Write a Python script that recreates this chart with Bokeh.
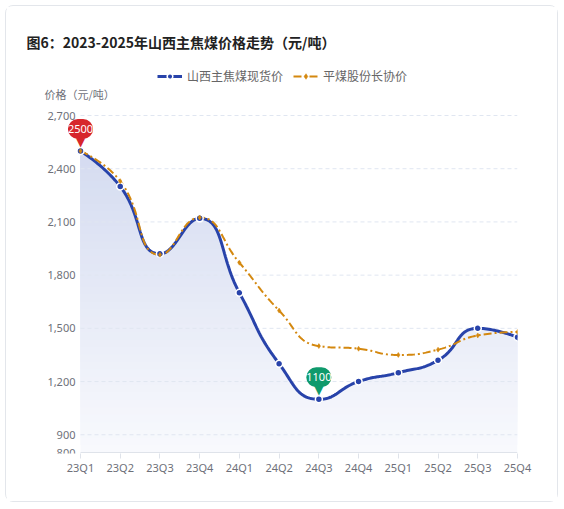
import math
import numpy as np
from bokeh.plotting import figure
from bokeh.models import Range1d, FixedTicker, Label, Legend, LegendItem
from bokeh.core.properties import value
from bokeh.embed import file_html
from bokeh.resources import INLINE

# ---------------- data ----------------
quarters = ["23Q1", "23Q2", "23Q3", "23Q4", "24Q1", "24Q2", "24Q3", "24Q4",
            "25Q1", "25Q2", "25Q3", "25Q4"]
spot_price = [2500, 2300, 1920, 2120, 1700, 1300, 1100, 1200, 1250, 1320, 1500, 1450]
contract_price = [2500, 2330, 1915, 2125, 1870, 1600, 1400, 1385, 1350, 1380, 1460, 1480]
y_ticks = [800, 900, 1200, 1500, 1800, 2100, 2400, 2700]
grid_ticks = [900, 1200, 1500, 1800, 2100, 2400, 2700]
series_names = ["山西主焦煤现货价", "平煤股份长协价"]
title_text = "图6：2023-2025年山西主焦煤价格走势（元/吨）"
y_title = "价格（元/吨）"

# ---------------- layout (page pixels) ----------------
OX, OY = 6, 6                      # figure content origin on the page
W, H = 553, 497
F_L, F_R, F_T, F_B = 20, 517, 20, 453   # frame edges on page
AX_L, AX_R, AX_T, AX_B = 80, 517, 115, 452  # data area (0..11, 800..2700)
ML, MR, MT, MB = F_L - OX, W - (F_R - OX), F_T - OY, H - (F_B - OY)

Y0, Y1 = y_ticks[0], y_ticks[-1]
NX = len(quarters) - 1
sx = (AX_R - AX_L) / NX
sy = (AX_B - AX_T) / (Y1 - Y0)
x_start = 0 - (AX_L - F_L) / sx
y_start = Y0 - (F_B - AX_B) / sy
y_end = Y1 + (AX_T - F_T) / sy
xs = list(range(len(quarters)))

BLUE = "#2843aa"
ORANGE = "#d4880f"
CJK = "Noto Sans CJK SC"
LAT = "Noto Sans"
GRAY = "#6e7079"


def smooth_curve(xv, yv, smooth=0.5, n=30):
    """ECharts-like bezier smoothing computed in pixel space."""
    P = [(x * sx, (y - Y0) * sy) for x, y in zip(xv, yv)]
    ox, oy = [P[0][0]], [P[0][1]]
    cp0 = P[0]
    for i in range(1, len(P)):
        px, py = P[i - 1]
        x, y = P[i]
        if i == len(P) - 1:
            cp1 = (x, y)
            ncp0 = None
        else:
            nx, ny = P[i + 1]
            vx, vy = nx - px, ny - py
            lp = math.hypot(x - px, y - py)
            ln = math.hypot(nx - x, ny - y)
            r = ln / (ln + lp)
            ncx = x + vx * smooth * r
            ncy = y + vy * smooth * r
            ncx = min(ncx, max(nx, x)); ncy = min(ncy, max(ny, y))
            ncx = max(ncx, min(nx, x)); ncy = max(ncy, min(ny, y))
            vx, vy = ncx - x, ncy - y
            c1x = x - vx * lp / ln
            c1y = y - vy * lp / ln
            c1x = min(c1x, max(px, x)); c1y = min(c1y, max(py, y))
            c1x = max(c1x, min(px, x)); c1y = max(c1y, min(py, y))
            vx, vy = x - c1x, y - c1y
            ncx = x + vx * ln / lp
            ncy = y + vy * ln / lp
            cp1 = (c1x, c1y)
            ncp0 = (ncx, ncy)
        t = np.linspace(0, 1, n + 1)[1:]
        bx = (1 - t) ** 3 * px + 3 * (1 - t) ** 2 * t * cp0[0] + 3 * (1 - t) * t ** 2 * cp1[0] + t ** 3 * x
        by = (1 - t) ** 3 * py + 3 * (1 - t) ** 2 * t * cp0[1] + 3 * (1 - t) * t ** 2 * cp1[1] + t ** 3 * y
        ox.extend(bx.tolist()); oy.extend(by.tolist())
        cp0 = ncp0
    return np.array(ox) / sx, np.array(oy) / sy + Y0


p = figure(width=W, height=H, output_backend="svg", toolbar_location=None,
           x_range=Range1d(x_start, NX), y_range=Range1d(y_start, y_end),
           min_border_left=ML, min_border_right=MR, min_border_top=MT,
           min_border_bottom=MB)
p.styles = {"margin": "5px 5px 0 5px", "border": "1px solid #e3e6eb",
            "border-radius": "8px"}
p.outline_line_color = None
p.background_fill_color = "white"
p.border_fill_color = "white"
p.grid.visible = False
p.yaxis.visible = False

# x axis (ticks and labels from bokeh, line drawn over the data span only)
p.xaxis.ticker = FixedTicker(ticks=xs)
p.xaxis.major_label_overrides = {i: q for i, q in enumerate(quarters)}
p.xaxis.axis_line_color = None
p.xaxis.major_tick_line_color = "#dfe3ea"
p.xaxis.major_tick_out = 5
p.xaxis.major_tick_in = 0
p.xaxis.minor_tick_line_color = None
p.xaxis.major_label_standoff = 1
p.xaxis.major_label_text_font_size = "11px"
p.xaxis.major_label_text_color = GRAY
p.xaxis.major_label_text_font = LAT

# curves
bx, by = smooth_curve(xs, spot_price)
ox, oy = smooth_curve(xs, contract_price)

# gradient area under spot curve (stacked opaque bands, color by height)
top = max(spot_price)
c_top = np.array([212, 219, 240])
c_bot = np.array([248, 249, 253])
levels = np.linspace(Y0, top, 40, endpoint=False)
for L in levels:
    f = (L - Y0) / (top - Y0)
    c = (c_bot + (c_top - c_bot) * f).round().astype(int)
    p.varea(x=bx, y1=L, y2=np.maximum(by, L),
            fill_color="#%02x%02x%02x" % tuple(c))

# grid lines and axis line over data span
p.segment(x0=xs[0], x1=xs[-1], y0=grid_ticks, y1=grid_ticks,
          line_color="#e0e6f1", line_dash="4 3", line_width=1)
p.segment(x0=[xs[0]], x1=[xs[-1]], y0=[Y0], y1=[Y0], line_color="#dfe3ea",
          line_width=1)

# y tick labels
p.text(x=0, y=y_ticks, text=[f"{v:,}" for v in y_ticks], x_offset=-5,
       text_align="right", text_baseline="middle", text_font=value(LAT),
       text_font_size="11px", text_color=GRAY)

bl = p.line(bx, by, line_color=BLUE, line_width=3)
ol = p.line(ox, oy, line_color=ORANGE, line_width=2, line_dash="8 3 2 3")
bs = p.scatter(xs, spot_price, marker="circle", size=7, fill_color=BLUE,
               line_color="white", line_width=1.5)
os_ = p.scatter(xs, contract_price, marker="diamond", size=5, fill_color=ORANGE,
                line_color=ORANGE, line_width=0.5)

# pins for max / min
imax = int(np.argmax(spot_price))
imin = int(np.argmin(spot_price))
for idx, col in ((imax, "#d7262c"), (imin, "#0f9a6c")):
    p.add_layout(Label(x=xs[idx], y=spot_price[idx], text="▼", text_color=col,
                       text_font_size="12px", text_align="center",
                       text_baseline="middle", y_offset=9, text_font="DejaVu Sans"))
    p.add_layout(Label(x=xs[idx], y=spot_price[idx], text=str(spot_price[idx]),
                       text_color="white", text_font_size="11px", text_font=LAT,
                       text_align="center", text_baseline="middle", y_offset=22,
                       background_fill_color=col, border_radius=12, padding=(0, 6)))

# title and axis name (positioned relative to the top-left data corner)
p.add_layout(Label(x=0, y=Y1, x_offset=26 - AX_L, y_offset=AX_T - 41,
                   text=title_text, text_font=CJK, text_font_size="14px",
                   text_font_style="bold", text_color="#222222",
                   text_baseline="middle"))
p.add_layout(Label(x=0, y=Y1, x_offset=44 - AX_L, y_offset=AX_T - 93,
                   text=y_title, text_font=CJK, text_font_size="11px",
                   text_color=GRAY, text_baseline="middle"))

legend = Legend(items=[LegendItem(label=series_names[0], renderers=[bl, bs]),
                       LegendItem(label=series_names[1], renderers=[ol, os_])],
                orientation="horizontal", location=(157 - F_L, F_B - 76 + 7 - 15),
                glyph_width=25, glyph_height=14, label_height=14,
                label_standoff=5, spacing=10, padding=0, margin=0,
                border_line_color=None, background_fill_alpha=0,
                label_text_font=CJK, label_text_font_size="12px",
                label_text_color="#666666")
p.add_layout(legend, "center")

open("out.html", "w").write(file_html(p, INLINE))
